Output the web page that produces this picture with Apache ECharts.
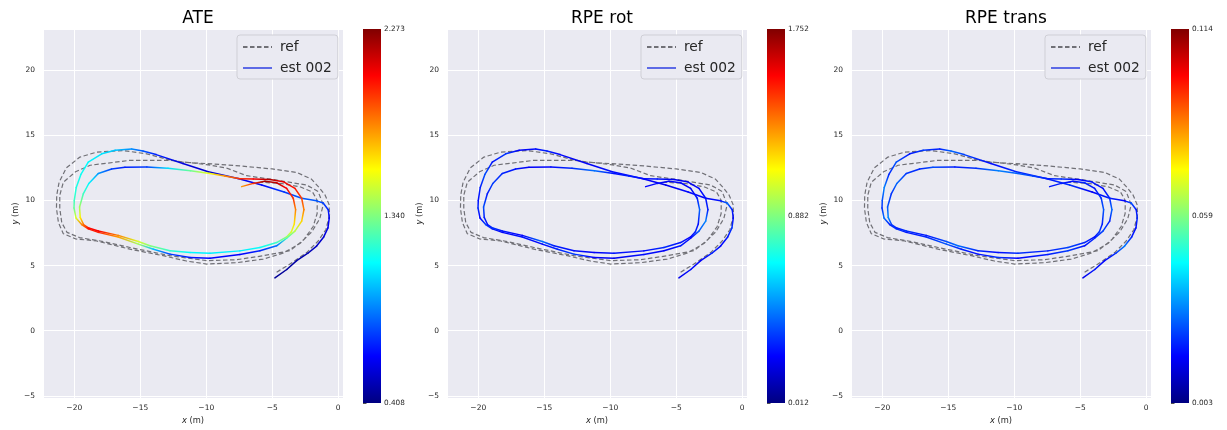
<!DOCTYPE html>
<html><head><meta charset="utf-8">
<script src="https://cdn.jsdelivr.net/npm/echarts@6/dist/echarts.min.js"></script>
<style>html,body{margin:0;padding:0;background:#fff}#c{width:1227px;height:430px}</style>
</head><body><div id="c"></div>
<script>
const titles = ['ATE', 'RPE rot', 'RPE trans'];
const legendNames = ['ref', 'est 002'];

// estimated trajectory (est 002)
const estX = [-4.80,-3.90,-3.15,-2.30,-1.64,-1.10,-0.78,-0.68,-0.76,-1.14,
  -1.64,-2.77,-4.10,-5.80,-7.60,-9.85,-11.77,-13.80,-14.80,-15.65,
  -16.90,-17.92,-18.94,-19.50,-19.85,-20.00,-20.02,-19.87,-19.44,-18.94,
  -18.18,-16.67,-15.15,-14.00,-12.75,-11.23,-9.72,-7.45,-5.93,-4.67,
  -3.91,-3.28,-2.77,-2.60,-2.77,-3.28,-4.17,-5.17,-6.44,-7.45,
  -8.60,-9.72,-11.20,-12.90,-14.50,-16.16,-17.17,-18.18,-18.90,-19.32,
  -19.60,-19.55,-19.30,-18.90,-18.18,-16.67,-15.15,-14.27,-12.75,-11.23,
  -9.72,-7.45,-5.93,-4.67,-3.91,-3.55,-3.33,-3.23,-3.41,-3.91,
  -4.67,-5.55,-6.44,-7.32];
const estY = [4.06,4.70,5.38,5.95,6.50,7.20,7.90,8.66,9.29,9.80,
  9.97,10.17,10.65,11.18,11.68,12.20,12.83,13.52,13.80,13.95,
  13.85,13.58,12.95,12.00,11.00,10.00,9.42,8.66,8.15,7.82,
  7.55,7.20,6.65,6.25,5.88,5.63,5.56,5.85,6.14,6.52,
  7.10,7.65,8.41,9.29,10.17,10.93,11.44,11.61,11.64,11.66,
  11.88,12.07,12.28,12.48,12.56,12.55,12.42,12.07,11.30,10.50,
  9.50,8.70,8.15,7.88,7.65,7.32,6.85,6.52,6.14,6.00,
  5.95,6.13,6.39,6.77,7.20,7.60,8.20,9.29,10.17,10.93,
  11.36,11.48,11.31,11.06];

// error values along est trajectory
const ateVals = [0.45,0.46,0.48,0.50,0.53,0.56,0.60,0.64,0.70,0.76,
  0.80,0.80,0.74,0.66,0.60,0.55,0.58,0.70,0.80,0.90,
  1.00,1.06,1.10,1.13,1.16,1.22,1.30,1.50,1.80,2.00,
  1.98,1.75,1.40,1.00,0.75,0.68,0.64,0.64,0.70,0.85,
  1.20,1.45,1.65,1.80,1.92,2.00,2.08,2.18,2.05,1.95,
  1.78,1.55,1.30,1.05,0.75,0.70,0.76,0.92,1.10,1.22,
  1.40,1.60,1.85,2.02,2.05,1.80,1.50,1.35,1.20,1.10,
  1.08,1.08,1.12,1.22,1.38,1.50,1.62,1.80,1.95,2.05,
  2.15,2.22,1.95,1.75];
const rpeRotVals = [0.20,0.25,0.22,0.28,0.24,0.26,0.32,0.24,0.28,0.40,
  0.26,0.22,0.24,0.20,0.23,0.25,0.21,0.24,0.28,0.25,
  0.22,0.32,0.26,0.36,0.28,0.25,0.30,0.23,0.34,0.27,
  0.22,0.26,0.24,0.29,0.33,0.23,0.20,0.25,0.22,0.27,
  0.24,0.38,0.45,0.28,0.26,0.23,0.21,0.20,0.26,0.24,
  0.28,0.25,0.42,0.30,0.24,0.22,0.26,0.29,0.33,0.27,
  0.36,0.28,0.25,0.31,0.27,0.23,0.42,0.28,0.25,0.22,
  0.26,0.24,0.30,0.26,0.23,0.28,0.25,0.40,0.27,0.22,
  0.24,0.21,0.25,0.23];
const rpeTransVals = [0.015,0.019,0.017,0.022,0.030,0.020,0.018,0.021,0.019,0.025,
  0.017,0.020,0.016,0.022,0.019,0.021,0.018,0.024,0.028,0.020,
  0.023,0.019,0.026,0.021,0.031,0.025,0.022,0.029,0.020,0.023,
  0.019,0.021,0.026,0.020,0.018,0.022,0.017,0.020,0.023,0.019,
  0.021,0.024,0.020,0.028,0.021,0.018,0.019,0.016,0.022,0.020,
  0.024,0.027,0.031,0.022,0.020,0.025,0.021,0.023,0.028,0.022,
  0.026,0.032,0.023,0.020,0.022,0.019,0.025,0.029,0.021,0.018,
  0.022,0.020,0.024,0.021,0.018,0.023,0.020,0.026,0.022,0.019,
  0.021,0.018,0.020,0.019];

// reference trajectory
const refX = [-4.67,-3.66,-2.39,-1.52,-0.93,-0.66,-0.70,-1.00,-1.45,-2.05,
  -3.15,-5.00,-7.45,-9.97,-12.00,-13.30,-14.52,-16.29,-18.30,-19.57,
  -20.60,-21.15,-21.33,-21.35,-21.20,-20.83,-19.90,-18.30,-15.78,-13.26,
  -11.50,-9.97,-7.70,-5.68,-4.20,-2.90,-2.00,-1.40,-1.14,-1.52,
  -2.39,-4.67,-6.94,-8.50,-10.00,-12.75,-15.78,-18.80,-19.90,-20.83,
  -21.10,-21.10,-20.95,-20.55,-19.60,-17.80,-15.78,-12.75,-9.97,-7.70,
  -5.68,-3.66,-2.60,-1.90,-1.60,-1.59,-1.95,-2.90,-4.30,-5.90];
const refY = [4.49,5.12,6.00,6.89,7.77,8.90,9.70,10.42,11.00,11.65,
  12.15,12.42,12.65,12.83,12.95,13.25,13.58,13.83,13.71,13.33,
  12.50,11.40,10.40,9.40,8.30,7.45,7.05,6.89,6.26,5.76,
  5.35,5.12,5.22,5.50,5.95,6.70,7.60,8.60,9.67,10.68,
  11.18,11.56,11.90,12.50,12.75,13.08,13.08,12.70,12.20,11.40,
  10.40,9.40,8.30,7.55,7.15,6.85,6.39,5.76,5.38,5.45,
  5.76,6.14,7.00,8.00,9.00,10.00,10.65,11.05,11.30,11.40];

// colorbar ranges and tick labels
const cbMin = [0.408, 0.012, 0.003];
const cbMax = [2.273, 1.752, 0.114];
const cbTickLabels = [['0.408','1.340','2.273'], ['0.012','0.882','1.752'], ['0.003','0.059','0.114']];
const errVals = [ateVals, rpeRotVals, rpeTransVals];

const xRange = [-22.37, 0.36];
const yRange = [-5.17, 23.16];

function jet(t) {
  t = Math.max(0, Math.min(1, t));
  const c = v => Math.round(255 * Math.max(0, Math.min(1, v)));
  return 'rgb(' + c(1.5 - Math.abs(4*t - 3)) + ',' + c(1.5 - Math.abs(4*t - 2)) + ',' + c(1.5 - Math.abs(4*t - 1)) + ')';
}

const FONT = 'DejaVu Sans';
const minusFmt = v => String(v).replace('-', '\u2212');

const option = {
  animation: false,
  backgroundColor: '#ffffff',
  title: [], legend: [], grid: [], xAxis: [], yAxis: [], series: []
};

for (let p = 0; p < 3; p++) {
  const dx = p * 404;
  const gi = p * 2, cbi = p * 2 + 1;
  option.title.push({
    text: titles[p], left: 193 + dx, top: 5, textAlign: 'center',
    textStyle: {fontSize: 17, fontWeight: 'normal', color: '#000', fontFamily: FONT}
  });
  option.legend.push({
    data: legendNames, orient: 'vertical', left: 237 + dx, top: 35,
    itemWidth: 29, itemHeight: 14, itemGap: 7,
    padding: [5, 6, 4, 5],
    itemStyle: {opacity: 0, color: 'transparent', borderColor: 'transparent', borderWidth: 0},
    backgroundColor: '#EAEAF2', borderColor: '#cfcfd6', borderWidth: 1, borderRadius: 3,
    textStyle: {fontSize: 13.8, color: '#262626', fontFamily: FONT, padding: [0, 0, 0, 3]}
  });
  option.grid.push({
    left: 43 + dx, top: 29, width: 300, height: 374,
    show: true, backgroundColor: '#EAEAF2', borderWidth: 0
  });
  option.grid.push({left: 363 + dx, top: 29, width: 18, height: 374});
  option.xAxis.push({
    gridIndex: gi, type: 'value', min: xRange[0], max: xRange[1],
    splitNumber: 5, minInterval: 5, maxInterval: 5,
    name: '{i|x} (m)', nameLocation: 'middle', nameGap: 13,
    nameTextStyle: {fontSize: 8.3, color: '#262626', fontFamily: FONT,
      rich: {i: {fontStyle: 'italic', fontSize: 8.3, color: '#262626', fontFamily: FONT}}},
    axisLine: {show: false}, axisTick: {show: false},
    axisLabel: {fontSize: 7.5, color: '#262626', fontFamily: FONT, margin: 6,
      showMinLabel: false, showMaxLabel: false, formatter: minusFmt},
    splitLine: {show: true, lineStyle: {color: '#ffffff', width: 1}}
  });
  option.yAxis.push({
    gridIndex: gi, type: 'value', min: yRange[0], max: yRange[1],
    splitNumber: 6, minInterval: 5, maxInterval: 5,
    name: '{i|y} (m)', nameLocation: 'middle', nameGap: 21,
    nameTextStyle: {fontSize: 8.3, color: '#262626', fontFamily: FONT,
      rich: {i: {fontStyle: 'italic', fontSize: 8.3, color: '#262626', fontFamily: FONT}}},
    axisLine: {show: false}, axisTick: {show: false},
    axisLabel: {fontSize: 7.5, color: '#262626', fontFamily: FONT, margin: 8,
      showMinLabel: false, showMaxLabel: false, formatter: minusFmt},
    splitLine: {show: true, lineStyle: {color: '#ffffff', width: 1}}
  });
  // colorbar axes
  option.xAxis.push({gridIndex: cbi, type: 'value', min: 0, max: 1, show: false});
  const iv = (cbMax[p] - cbMin[p]) / 2;
  option.yAxis.push({
    gridIndex: cbi, type: 'value', position: 'right',
    min: cbMin[p], max: cbMin[p] + 2 * iv, interval: iv,
    axisLine: {show: false},
    axisTick: {show: true, length: 3.5, lineStyle: {color: '#262626', width: 0.8}},
    axisLabel: {fontSize: 7.3, color: '#262626', fontFamily: FONT, margin: 3,
      formatter: (v, i) => cbTickLabels[p][Math.min(i, 2)]},
    splitLine: {show: false}
  });

  // reference trajectory
  option.series.push({
    name: 'ref', type: 'line', xAxisIndex: gi, yAxisIndex: gi,
    data: refX.map((x, i) => [x, refY[i]]),
    symbol: 'none', showSymbol: false, z: 2,
    lineStyle: {color: '#707076', width: 1.2, type: [4.5, 2.5]},
    itemStyle: {color: '#707076'}
  });
  // legend entry for est
  option.series.push({
    name: 'est 002', type: 'line', xAxisIndex: gi, yAxisIndex: gi, data: [],
    symbol: 'none', lineStyle: {color: '#5d6ae6', width: 1.5}, itemStyle: {color: '#5d6ae6'}
  });
  // colored est trajectory
  const vals = errVals[p];
  const segs = [];
  for (let i = 0; i < estX.length - 1; i++) {
    segs.push([estX[i], estY[i], estX[i+1], estY[i+1], vals[i], vals[i+1]]);
  }
  const lo = cbMin[p], hi = cbMax[p];
  option.series.push({
    type: 'custom', xAxisIndex: gi, yAxisIndex: gi, z: 3,
    data: segs, encode: {x: [0, 2], y: [1, 3]},
    renderItem: function (params, api) {
      const a = api.coord([api.value(0), api.value(1)]);
      const b = api.coord([api.value(2), api.value(3)]);
      const c1 = jet((api.value(4) - lo) / (hi - lo));
      const c2 = jet((api.value(5) - lo) / (hi - lo));
      let stroke = c1;
      if (Math.abs(a[0]-b[0]) + Math.abs(a[1]-b[1]) > 0.5) {
        stroke = new echarts.graphic.LinearGradient(a[0], a[1], b[0], b[1],
          [{offset: 0, color: c1}, {offset: 1, color: c2}], true);
      }
      return {type: 'line', shape: {x1: a[0], y1: a[1], x2: b[0], y2: b[1]},
        style: {stroke: stroke, lineWidth: 1.5, lineCap: 'round'}};
    }
  });
  // colorbar
  option.series.push({
    type: 'custom', xAxisIndex: cbi, yAxisIndex: cbi,
    data: [[0.5, (lo + hi) / 2]],
    renderItem: function (params, api) {
      const a = api.coord([0, lo]);
      const b = api.coord([1, hi]);
      return {type: 'rect', shape: {x: a[0], y: b[1], width: b[0] - a[0], height: a[1] - b[1]},
        style: {fill: new echarts.graphic.LinearGradient(0, 1, 0, 0,
          [0, 0.125, 0.375, 0.625, 0.875, 1].map(o => ({offset: o, color: jet(o)})))}};
    }
  });
}

const chart = echarts.init(document.getElementById('c'), null, {renderer: 'canvas'});
chart.setOption(option);
</script>
</body></html>
